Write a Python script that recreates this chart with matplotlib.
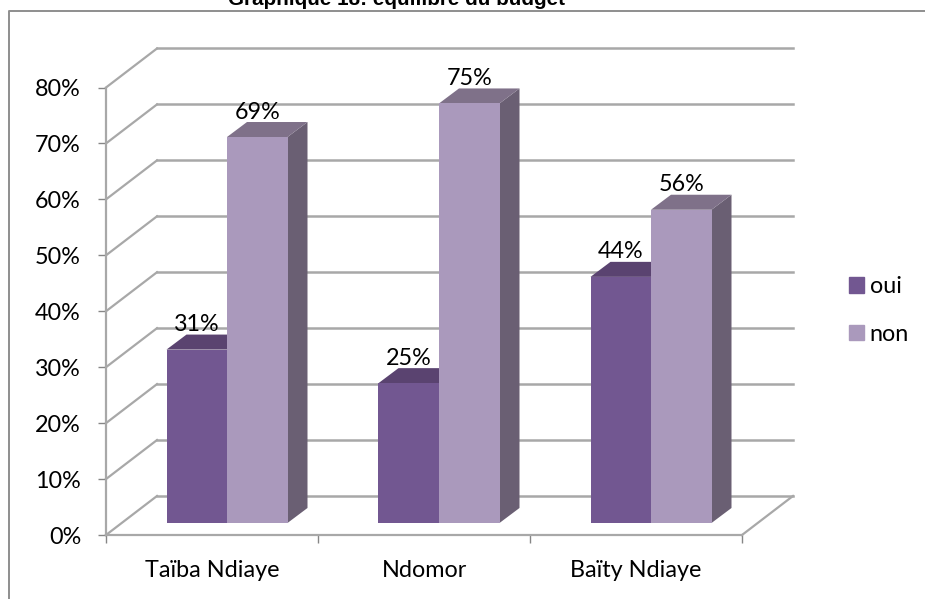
import matplotlib
matplotlib.use("Agg")
import matplotlib.pyplot as plt
from matplotlib.lines import Line2D
from matplotlib.patches import Patch

plt.rcParams['font.family'] = ['Lato', 'DejaVu Sans']

categories = ["Taïba Ndiaye", "Ndomor", "Baïty Ndiaye"]
oui = [31, 25, 44]
non = [69, 75, 56]
yticks = [0, 10, 20, 30, 40, 50, 60, 70, 80]

W, H = 925, 599
fig = plt.figure(figsize=(W / 100, H / 100), dpi=100)
ax = fig.add_axes([106 / W, 1 - 535 / H, 636 / W, 447.5 / H])
ax.set_xlim(0, 3)
ax.set_ylim(0, 80)

# 3d look, all in data units
wall_dx = 51 / 212
wall_dy = 39 / 5.59
bar_dx = 20 / 212
bar_dy = 15 / 5.59
shift_x = 15 / 212
base = 12 / 5.59
w = 60.5 / 212
fs = 16.8

grid = "#a8a8a8"
for t in yticks:
    ax.plot([0, wall_dx], [t, t + wall_dy], color=grid, lw=1.6, clip_on=False, zorder=1)
    ax.plot([wall_dx, 3 + wall_dx], [t + wall_dy, t + wall_dy], color=grid, lw=1.8, clip_on=False, zorder=1)
ax.plot([3, 3 + wall_dx], [0, wall_dy], color=grid, lw=1.6, clip_on=False, zorder=1)


def draw_bar(x, val, face, top, side):
    y = base + val
    ax.fill([x + w, x + w + bar_dx, x + w + bar_dx, x + w],
            [base, base + bar_dy, y + bar_dy, y], color=side, lw=0, zorder=3)
    ax.fill([x, x + bar_dx, x + w + bar_dx, x + w],
            [y, y + bar_dy, y + bar_dy, y], color=top, lw=0, zorder=3)
    ax.bar(x, val, width=w, bottom=base, align='edge', color=face, lw=0, zorder=3)
    ax.annotate(f"{val}%", (x + w / 2, y), xytext=(0, 18), textcoords='offset points',
                ha='center', va='center', fontsize=fs, color='black', zorder=5)


for i in range(len(categories)):
    left = i + 0.5 + shift_x - w
    draw_bar(left, oui[i], "#725791", "#5a4370", "#5a4d66")
    draw_bar(left + w, non[i], "#aa99bc", "#7f7189", "#6a5f73")

for s in ['top', 'right']:
    ax.spines[s].set_visible(False)
for s in ['left', 'bottom']:
    ax.spines[s].set_color(grid)
    ax.spines[s].set_linewidth(1.6)
ax.spines['bottom'].set_zorder(2)

ax.set_yticks(yticks)
ax.set_yticklabels([f"{t}%" for t in yticks], fontsize=fs)
ax.set_xticks([0, 1, 2, 3])
ax.set_xticklabels([])
ax.set_xticks([0.5, 1.5, 2.5], labels=categories, minor=True, fontsize=fs)
ax.tick_params(axis='x', which='major', length=6, width=1, color='#868686')
ax.tick_params(axis='x', which='minor', length=0, pad=18)
ax.tick_params(axis='y', length=6, width=1, color='#868686', pad=12)

handles = [Patch(color="#725791"), Patch(color="#aa99bc")]
fig.legend(handles, ["oui", "non"], loc='upper left', bbox_to_anchor=(828 / W, 1 - 255 / H),
           frameon=False, fontsize=fs, handlelength=0.64, handleheight=0.64,
           handletextpad=0.25, labelspacing=1.15)

fig.add_artist(Line2D([9 / W, 9 / W, 1], [0, 1 - 11 / H, 1 - 11 / H], color="#8e8e8e", lw=1.4))
fig.text(396.5 / W, 1 - 5 / H, "Graphique 18: équilibre du budget", family='Liberation Sans',
         fontweight='bold', fontsize=14.9, ha='center', va='baseline')

fig.savefig("out.png", dpi=100)
